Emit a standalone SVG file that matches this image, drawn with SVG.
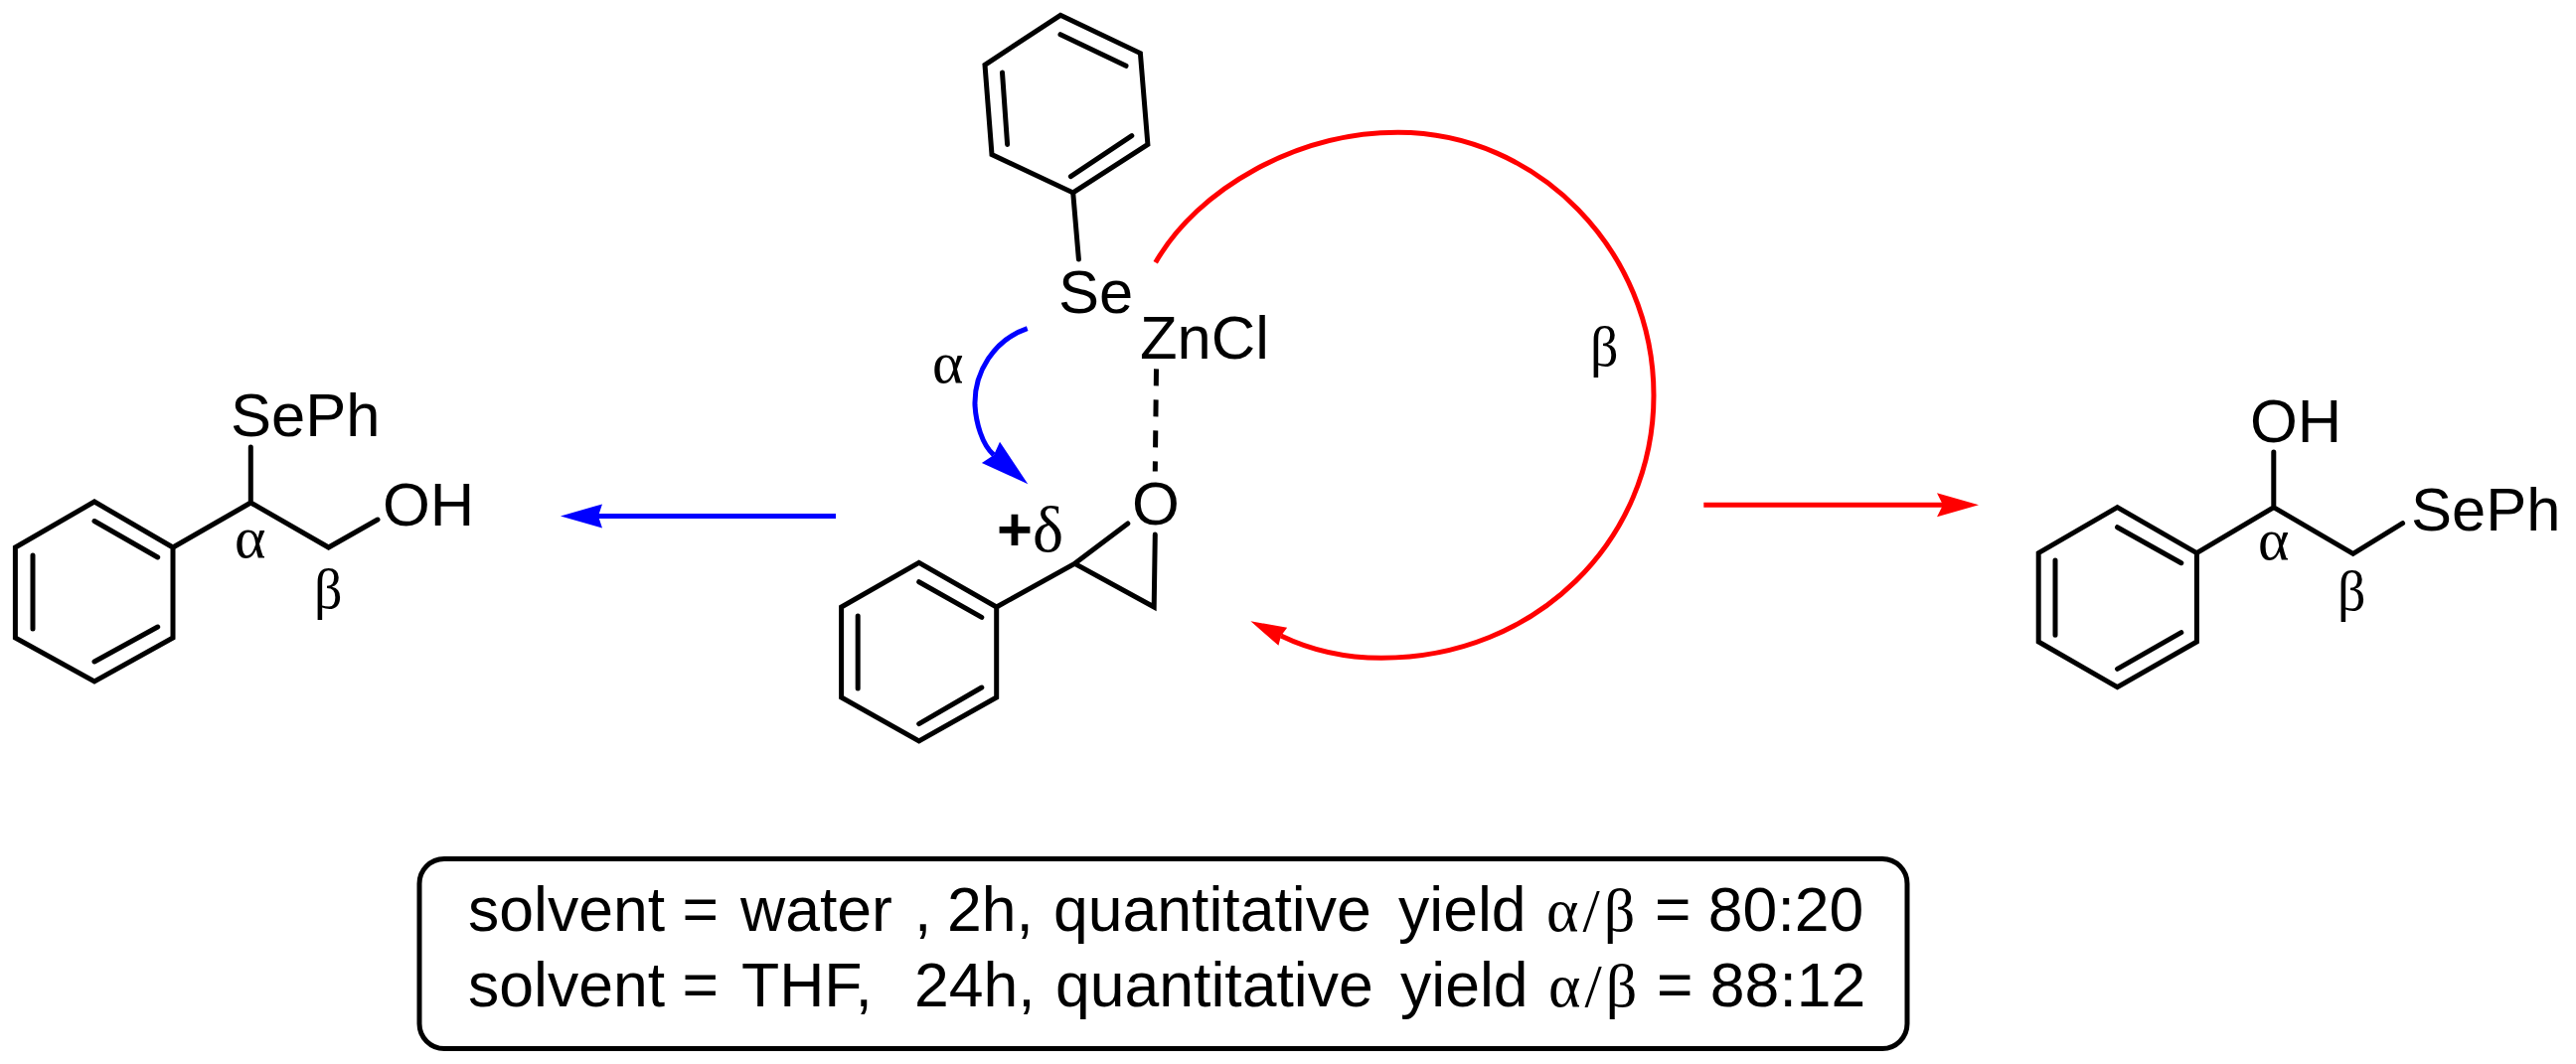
<svg xmlns="http://www.w3.org/2000/svg" width="2592" height="1071" viewBox="0 0 2592 1071">
<style>
.b{fill:none;stroke:#000;stroke-width:5;stroke-linecap:round;stroke-linejoin:miter}
.d{fill:none;stroke:#000;stroke-width:5;stroke-dasharray:17 14}
.t{font-family:"Liberation Sans",Arial,sans-serif;font-size:61.5px;fill:#000}
.a{font-family:"Liberation Serif","DejaVu Serif",serif;font-size:60px;fill:#000}
.e{font-family:"Liberation Serif","DejaVu Serif",serif;font-size:56px;fill:#000}
.p{font-family:"Liberation Serif","DejaVu Serif",serif;font-size:66px;fill:#000}
.s{font-family:"Liberation Sans",Arial,sans-serif;font-size:62.5px;fill:#000;white-space:pre}
.m{font-family:"Liberation Serif","DejaVu Serif",serif;font-size:62px;letter-spacing:4px}
.r{fill:none;stroke:#f00;stroke-width:5}
.l{fill:none;stroke:#00f;stroke-width:5}
</style>
<defs>
<marker id="hb" markerUnits="userSpaceOnUse" markerWidth="46" markerHeight="28" viewBox="0 0 46 28" refX="6" refY="14" orient="auto"><path d="M44 14L2 2L6 14L2 26Z" fill="#00f"/></marker>
<marker id="hbs" markerUnits="userSpaceOnUse" markerWidth="54" markerHeight="32" viewBox="0 0 54 32" refX="7" refY="16" orient="auto"><path d="M52 16L3 2L7 16L3 30Z" fill="#00f"/></marker>
<marker id="hr" markerUnits="userSpaceOnUse" markerWidth="46" markerHeight="28" viewBox="0 0 46 28" refX="8" refY="14" orient="auto"><path d="M44 14L2 2L8 14L2 26Z" fill="#f00"/></marker>
<marker id="hrs" markerUnits="userSpaceOnUse" markerWidth="40" markerHeight="24" viewBox="0 0 40 24" refX="4" refY="12" orient="auto"><path d="M38 12L2 2L4 12L2 22Z" fill="#f00"/></marker>
</defs>
<rect width="2592" height="1071" fill="#fff"/>
<g id="product-alpha">
<path class="b" d="M95 505L174 551V642L95 686L15.4 642V551Z"/>
<path class="b" d="M95 524.5L158.7 561M158.7 631L95 666M33 559V633M174 551L252.3 506L330.6 551L380 523M252.3 506V450"/>
<text class="t" x="232" y="439">SePh</text>
<text class="t" x="385" y="529">OH</text>
<text class="a" x="236" y="561">α</text>
<text class="e" x="316" y="612">β</text>
</g>
<g id="selenide">
<path class="b" d="M1067 15.3L1147.4 53.6L1154.9 145.4L1079.7 193.9L998 155.6L991 65.3Z"/>
<path class="b" d="M1067 34.7L1133 66.3M1138.8 136.7L1077.4 177.6M1008.5 73L1013.6 145.4M1079.7 193.9L1085.4 261"/>
<text class="t" x="1065" y="315">Se</text>
<text class="t" x="1147" y="361">ZnCl</text>
<text class="a" x="938" y="385">α</text>
<text class="e" x="1600" y="368">β</text>
</g>
<g id="epoxide">
<path class="b" d="M924.7 566.3L1002.7 611V702L924.7 746L846.6 702V611Z"/>
<path class="b" d="M924.7 585.7L987.8 621.4M987.8 692L924.7 728.6M863.2 620V693M1002.7 611L1081.4 567.3L1161.2 611L1162.3 538M1081.4 567.3L1134.8 527"/>
<path class="d" d="M1163.5 371.4L1162.3 474.5"/>
<text class="t" x="1139" y="528">O</text>
<text class="t" x="1003" y="554" font-weight="bold">+</text>
<text class="p" x="1039" y="555">δ</text>
</g>
<g id="product-beta">
<path class="b" d="M2130.5 510.7L2210.4 556.7V646L2130.5 691.7L2051.2 646V556.7Z"/>
<path class="b" d="M2130.5 530.7L2194.8 566.7M2194.8 636.7L2130.5 673.3M2068 564V639.3M2210.4 556.7L2287.8 510.7L2367.7 557.3L2417.6 526.7M2287.8 510.7V455"/>
<text class="t" x="2264" y="445">OH</text>
<text class="t" x="2426" y="534">SePh</text>
<text class="a" x="2272" y="563">α</text>
<text class="e" x="2352" y="614">β</text>
</g>
<g id="conditions">
<rect x="422" y="864.5" width="1497" height="191" rx="25" fill="none" stroke="#000" stroke-width="5"/>
<text class="s" y="937"><tspan x="471">solvent = </tspan><tspan x="745">water </tspan><tspan x="920">, </tspan><tspan x="953">2h, </tspan><tspan x="1060">quantitative </tspan><tspan x="1407">yield </tspan><tspan x="1556" class="m">α/β</tspan><tspan x="1665">= 80:20</tspan></text>
<text class="s" y="1013"><tspan x="471">solvent = </tspan><tspan x="746">THF,  </tspan><tspan x="920">24h, </tspan><tspan x="1062">quantitative </tspan><tspan x="1409">yield </tspan><tspan x="1558" class="m">α/β</tspan><tspan x="1667">= 88:12</tspan></text>
</g>
<g id="connectors">
<path class="l" marker-end="url(#hb)" d="M841 519.4H602"/>
<path class="r" marker-end="url(#hr)" d="M1714.3 508.3H1955"/>
<path class="l" marker-end="url(#hbs)" d="M1033.7 330.6C1000 342 980 375 981 408C982 425 988 447.8 1000 458"/>
<path class="r" marker-end="url(#hrs)" d="M1162.7 264.3C1205 190 1305 133.3 1406.7 133.3C1547 133.3 1664 252 1664 398C1664 544 1546 662.3 1390 662.3C1355 662.3 1320 655 1289 640"/>
</g>
</svg>
